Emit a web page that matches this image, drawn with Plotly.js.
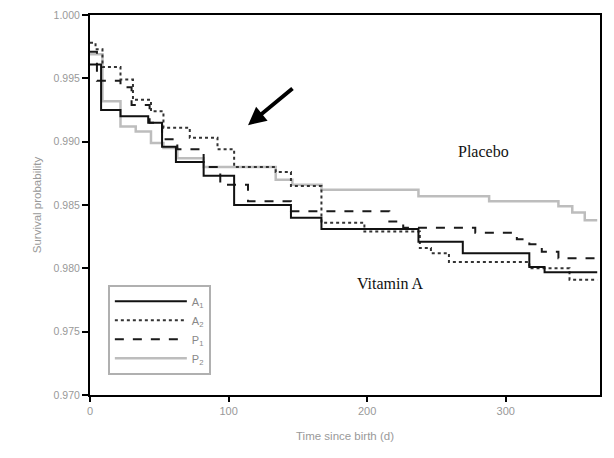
<!DOCTYPE html>
<html>
<head>
<meta charset="utf-8">
<script src="https://cdn.plot.ly/plotly-3.0.1.min.js"></script>
<style>html,body{margin:0;padding:0;background:#fff;}#chart{width:614px;height:458px;}</style>
</head>
<body>
<div id="chart"></div>
<script>
// Kaplan-Meier step curves (day, survival probability)
const daysA1 = [0, 8, 22, 42, 52, 62, 82, 104, 145, 167, 237, 269, 317, 328, 366];
const survA1 = [0.9961, 0.9925, 0.9920, 0.9915, 0.9896, 0.9884, 0.9873, 0.9850, 0.9840, 0.9831, 0.9821, 0.9812, 0.9801, 0.9797, 0.9797];

const daysA2 = [0, 4, 9, 22, 31, 44, 53, 72, 92, 104, 134, 145, 167, 198, 238, 246, 259, 317, 346, 366];
const survA2 = [0.9978, 0.9973, 0.9959, 0.9949, 0.9933, 0.9924, 0.9911, 0.9903, 0.9894, 0.9880, 0.9876, 0.9865, 0.9836, 0.9829, 0.9816, 0.9812, 0.9805, 0.9800, 0.9791, 0.9791];

const daysP1 = [0, 5, 22, 30, 43, 52, 63, 82, 94, 114, 145, 216, 226, 278, 308, 317, 326, 338, 366];
const survP1 = [0.9971, 0.9948, 0.9943, 0.9929, 0.9915, 0.9902, 0.9894, 0.9880, 0.9866, 0.9853, 0.9845, 0.9837, 0.9832, 0.9828, 0.9823, 0.9819, 0.9813, 0.9808, 0.9808];

const daysP2 = [0, 9, 22, 33, 44, 53, 63, 82, 134, 146, 167, 237, 288, 338, 348, 357, 366];
const survP2 = [0.9969, 0.9932, 0.9912, 0.9908, 0.9899, 0.9895, 0.9887, 0.9880, 0.9870, 0.9866, 0.9862, 0.9857, 0.9853, 0.9849, 0.9844, 0.9838, 0.9838];

const seriesNames = ["A<sub>1</sub>", "A<sub>2</sub>", "P<sub>1</sub>", "P<sub>2</sub>"];
const xTicks = [0, 100, 200, 300];
const yTicks = [0.970, 0.975, 0.980, 0.985, 0.990, 0.995, 1.000];

const mk = (x, y, name, color, dash, width) => ({
  x: x, y: y, name: name, type: 'scatter', mode: 'lines',
  line: {shape: 'hv', color: color, dash: dash, width: width}
});

const traces = [
  mk(daysP2, survP2, seriesNames[3], '#bdbdbd', 'solid', 2.5),
  mk(daysP1, survP1, seriesNames[2], '#1a1a1a', 'dash', 2),
  mk(daysA2, survA2, seriesNames[1], '#333333', 'dot', 2),
  mk(daysA1, survA1, seriesNames[0], '#111111', 'solid', 2)
];

const sans = 'Arial, Liberation Sans, sans-serif';
const layout = {
  width: 614, height: 458,
  margin: {l: 90, r: 14, t: 15, b: 63},
  paper_bgcolor: '#ffffff', plot_bgcolor: '#ffffff',
  showlegend: true,
  legend: {
    x: 0.035, y: 0.29, xanchor: 'left', yanchor: 'top',
    traceorder: 'reversed',
    bgcolor: '#ffffff', bordercolor: '#b0b0b0', borderwidth: 2,
    font: {family: sans, size: 11, color: '#888'},
    itemwidth: 72
  },
  xaxis: {
    range: [0, 368], tickvals: xTicks, ticktext: xTicks.map(String),
    ticks: 'outside', ticklen: 5, tickwidth: 2, tickcolor: '#000',
    showline: true, linecolor: '#000', linewidth: 2, mirror: true,
    showgrid: false, zeroline: false,
    tickfont: {family: sans, size: 11, color: '#999'},
    title: {text: 'Time since birth (d)', standoff: 16,
            font: {family: sans, size: 11.5, color: '#999'}}
  },
  yaxis: {
    range: [0.970, 1.000], tickvals: yTicks, tickformat: '.3f',
    ticks: 'outside', ticklen: 6, tickwidth: 2, tickcolor: '#000',
    showline: true, linecolor: '#000', linewidth: 2, mirror: true,
    showgrid: false, zeroline: false,
    tickfont: {family: sans, size: 10.5, color: '#999'},
    title: {text: 'Survival probability', standoff: 10,
            font: {family: sans, size: 11.5, color: '#999'}}
  },
  annotations: [
    {x: 284, y: 0.9892, xref: 'x', yref: 'y', text: 'Placebo', showarrow: false,
     font: {family: 'Liberation Serif, DejaVu Serif, serif', size: 16, color: '#111'}},
    {x: 217, y: 0.9788, xref: 'x', yref: 'y', text: 'Vitamin A', showarrow: false,
     font: {family: 'Liberation Serif, DejaVu Serif, serif', size: 16, color: '#111'}},
    {x: 114, y: 0.9913, xref: 'x', yref: 'y', text: '', showarrow: true,
     arrowhead: 2, arrowsize: 0.9, arrowwidth: 4, arrowcolor: '#000',
     ax: 46, ay: -38}
  ]
};

Plotly.newPlot('chart', traces, layout, {displayModeBar: false, staticPlot: true});
</script>
</body>
</html>
